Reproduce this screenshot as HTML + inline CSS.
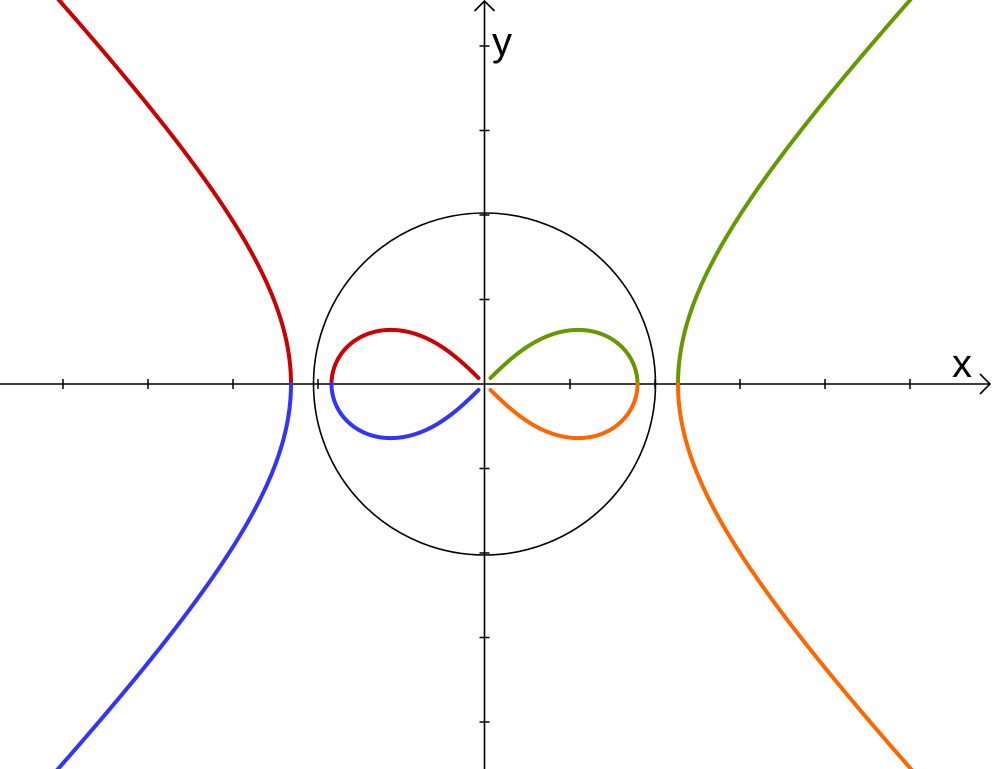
<!DOCTYPE html>
<html><head><meta charset="utf-8"><style>
html,body{margin:0;padding:0;background:#fff;}
svg{display:block;}
</style></head><body>
<svg id="s" width="992" height="769" viewBox="0 0 992 769" xmlns="http://www.w3.org/2000/svg">
<rect width="992" height="769" fill="#fff"/>
<line x1="0" y1="384" x2="990" y2="384" stroke="#000" stroke-width="1.6"/>
<polyline points="980,374 990,384 980,394" fill="none" stroke="#000" stroke-width="1.6"/>
<line x1="484.5" y1="769" x2="484.5" y2="1" stroke="#000" stroke-width="1.6"/>
<polyline points="474.5,11 484.5,1 494.5,11" fill="none" stroke="#000" stroke-width="1.6"/>
<g stroke="#000" stroke-width="1.5" id="ticks"></g>
<circle cx="484.5" cy="384" r="171" fill="none" stroke="#000" stroke-width="1.6"/>
<text x="952" y="377" font-family="Liberation Sans, sans-serif" font-size="40">x</text>
<text x="492" y="55" font-family="Liberation Sans, sans-serif" font-size="40">y</text>
<g id="curves" fill="none" stroke-width="4" stroke-linecap="round"></g>
</svg>
<script>
var ox=484.5, oy=384;
var tk=document.getElementById('ticks'), t='';
[63,148,233,318,570,655,740,825,910].forEach(function(x){
 t+='<line x1="'+x+'" y1="379" x2="'+x+'" y2="389"/>'; });
for(var k=-4;k<=4;k++){ if(k==0)continue; var y=oy+k*84.5;
 t+='<line x1="479.5" y1="'+y+'" x2="489.5" y2="'+y+'"/>'; }
tk.innerHTML=t;
var a=193.5, b=196, c=153, g='';
function hyp(sx,sy,col){ var d='';
 for(var i=0;i<=200;i++){ var tt=i/200*1.5; var x=ox+sx*a*Math.cosh(tt), y=oy-sy*b*Math.sinh(tt);
  d+=(i?'L':'M')+x.toFixed(2)+' '+y.toFixed(2);}
 g+='<path d="'+d+'" stroke="'+col+'"/>'; }
function lem(sx,sy,col){ var d=''; var rmin=8.5;
 var thmax=0.5*Math.acos((rmin/c)*(rmin/c));
 for(var i=0;i<=200;i++){ var th=i/200*thmax; var r=c*Math.sqrt(Math.max(0,Math.cos(2*th)));
  var x=ox+sx*r*Math.cos(th), y=oy-sy*r*Math.sin(th);
  d+=(i?'L':'M')+x.toFixed(2)+' '+y.toFixed(2);}
 g+='<path d="'+d+'" stroke="'+col+'"/>'; }
hyp(-1,1,'#cc0000'); hyp(-1,-1,'#3333ff'); hyp(1,1,'#669900'); hyp(1,-1,'#ff6600');
lem(-1,1,'#cc0000'); lem(-1,-1,'#3333ff'); lem(1,1,'#669900'); lem(1,-1,'#ff6600');
document.getElementById('curves').innerHTML=g;
</script>
</body></html>
